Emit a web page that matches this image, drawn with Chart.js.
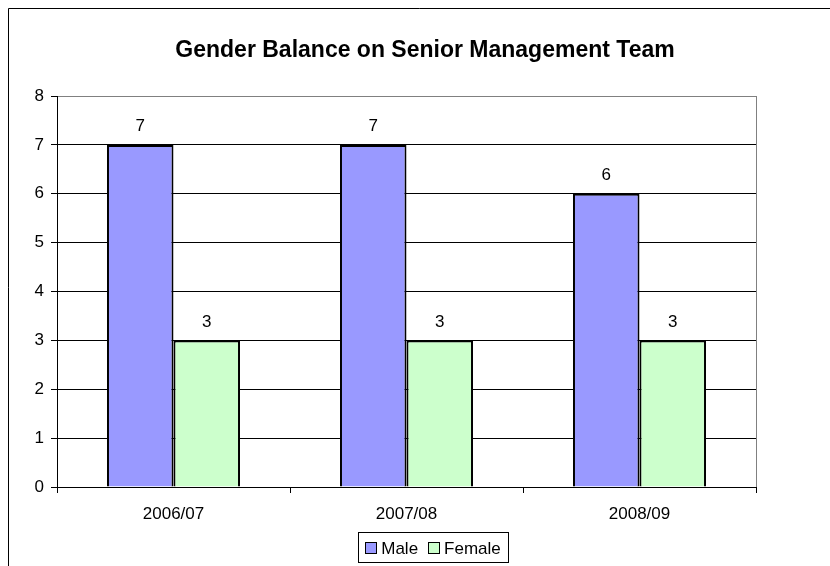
<!DOCTYPE html>
<html>
<head>
<meta charset="utf-8">
<script src="https://cdn.jsdelivr.net/npm/chart.js@4"></script>
<style>
    html, body { margin: 0; padding: 0; background: #fff; }
    #wrap { width: 830px; height: 566px; }
</style>
</head>
<body>
<div id="wrap"><canvas id="barChart" width="830" height="566"></canvas></div>
<script>
// Dane wykresu
const chartTitle = 'Gender Balance on Senior Management Team';
const categories = ['2006/07', '2007/08', '2008/09'];
const maleValues = [7, 7, 6];
const femaleValues = [3, 3, 3];
const seriesNames = ['Male', 'Female'];
const yTicks = [0, 1, 2, 3, 4, 5, 6, 7, 8];

const FONT = 'Arial, "Liberation Sans", sans-serif';

// Ramka, tytuł i obramowanie obszaru wykresu
const framePlugin = {
    id: 'frame',
    beforeDraw(chart) {
        const ctx = chart.ctx;
        ctx.save();
        ctx.fillStyle = '#fff';
        ctx.fillRect(0, 0, chart.width, chart.height);
        ctx.strokeStyle = '#000';
        ctx.lineWidth = 1;
        ctx.beginPath();
        ctx.moveTo(8.5, chart.height);
        ctx.lineTo(8.5, 8.5);
        ctx.lineTo(chart.width, 8.5);
        ctx.stroke();

        ctx.fillStyle = '#000';
        ctx.font = 'bold 23px ' + FONT;
        ctx.textAlign = 'center';
        ctx.textBaseline = 'alphabetic';
        ctx.fillText(chartTitle, 425, 57);
        ctx.restore();
    },
    beforeDatasetsDraw(chart) {
        const { ctx, chartArea } = chart;
        ctx.save();
        ctx.strokeStyle = '#808080';
        ctx.lineWidth = 1;
        ctx.beginPath();
        ctx.moveTo(Math.round(chartArea.right) + 0.5, chartArea.top);
        ctx.lineTo(Math.round(chartArea.right) + 0.5, chartArea.bottom);
        ctx.stroke();
        ctx.restore();
    }
};

// Etykiety wartości nad słupkami
const valueLabels = {
    id: 'valueLabels',
    afterDatasetsDraw(chart) {
        const ctx = chart.ctx;
        ctx.save();
        ctx.fillStyle = '#000';
        ctx.font = '17px ' + FONT;
        ctx.textAlign = 'center';
        ctx.textBaseline = 'alphabetic';
        chart.data.datasets.forEach((ds, i) => {
            chart.getDatasetMeta(i).data.forEach((bar, j) => {
                ctx.fillText(String(ds.data[j]), bar.x, bar.y - 13.5);
            });
        });
        ctx.restore();
    }
};

// Legenda w ramce pod osią
const boxedLegend = {
    id: 'boxedLegend',
    afterDraw(chart) {
        const ctx = chart.ctx;
        const sq = 11, gapText = 5, gapItem = 10, pad = 7;
        ctx.save();
        ctx.font = '17px ' + FONT;
        const items = chart.data.datasets.map(ds => ({
            label: ds.label,
            color: ds.backgroundColor,
            w: ctx.measureText(ds.label).width
        }));
        let total = 0;
        items.forEach((it, i) => {
            total += sq + gapText + it.w + (i < items.length - 1 ? gapItem : 0);
        });
        const cx = 433;
        const left = Math.round(cx - total / 2 - pad) + 0.5;
        const right = Math.round(cx + total / 2 + pad) + 0.5;
        ctx.fillStyle = '#fff';
        ctx.strokeStyle = '#000';
        ctx.lineWidth = 1;
        ctx.fillRect(left, 532.5, right - left, 30);
        ctx.strokeRect(left, 532.5, right - left, 30);

        let x = cx - total / 2;
        ctx.textBaseline = 'alphabetic';
        ctx.textAlign = 'left';
        items.forEach(it => {
            const sx = Math.round(x) + 0.5;
            ctx.fillStyle = it.color;
            ctx.fillRect(sx, 542.5, sq, sq);
            ctx.strokeRect(sx, 542.5, sq, sq);
            ctx.fillStyle = '#000';
            ctx.fillText(it.label, x + sq + gapText, 553.5);
            x += sq + gapText + it.w + gapItem;
        });
        ctx.restore();
    }
};

const ctx = document.getElementById('barChart').getContext('2d');
const barChart = new Chart(ctx, {
    type: 'bar',
    data: {
        labels: categories,
        datasets: [{
            label: seriesNames[0],
            data: maleValues,
            backgroundColor: '#9999FF',
            borderColor: '#000',
            borderWidth: 2,
            categoryPercentage: 0.571,
            barPercentage: 1.0
        }, {
            label: seriesNames[1],
            data: femaleValues,
            backgroundColor: '#CCFFCC',
            borderColor: '#000',
            borderWidth: 2,
            categoryPercentage: 0.571,
            barPercentage: 1.0
        }]
    },
    options: {
        responsive: false,
        animation: false,
        devicePixelRatio: 1,
        layout: { padding: { top: 96, left: 0, right: 74, bottom: 39 } },
        plugins: {
            legend: { display: false },
            title: { display: false },
            tooltip: { enabled: false }
        },
        scales: {
            x: {
                grid: {
                    offset: true,
                    drawOnChartArea: false,
                    color: '#000',
                    tickLength: 6
                },
                border: { display: true, color: '#000', width: 1 },
                ticks: {
                    color: '#000',
                    font: { family: FONT, size: 17 },
                    padding: 11
                },
                afterFit(scale) { scale.height = 40; }
            },
            y: {
                min: 0,
                max: 8,
                afterBuildTicks(scale) {
                    scale.ticks = yTicks.map(v => ({ value: v }));
                },
                grid: {
                    color: c => (c.tick && c.tick.value === 8 ? '#808080' : '#000'),
                    tickColor: '#000',
                    tickLength: 6
                },
                border: { display: true, color: '#000', width: 1 },
                ticks: {
                    color: '#000',
                    font: { family: FONT, size: 17 },
                    padding: 7
                },
                afterFit(scale) { scale.width = 57; }
            }
        }
    },
    plugins: [framePlugin, valueLabels, boxedLegend]
});
</script>
</body>
</html>
